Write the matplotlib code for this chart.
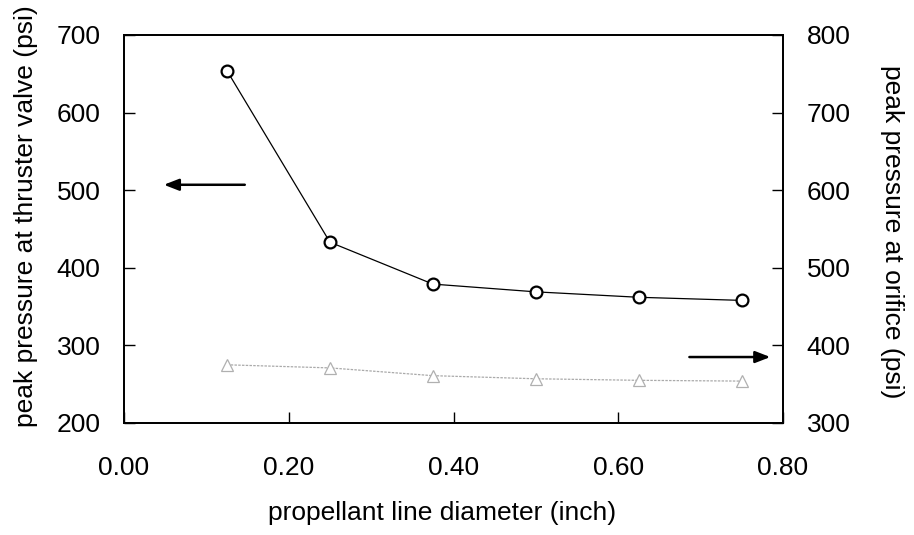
import matplotlib
matplotlib.use("Agg")
import matplotlib.pyplot as plt

plt.rcParams['font.family'] = ['Liberation Sans', 'DejaVu Sans']

diameter = [0.125, 0.25, 0.375, 0.50, 0.625, 0.75]
valve_pressure = [654, 433, 379, 369, 362, 358]
orifice_pressure = [375, 371, 361, 357, 355, 354]

x_ticks = [0.00, 0.20, 0.40, 0.60, 0.80]
left_ticks = [200, 300, 400, 500, 600, 700]
right_ticks = [300, 400, 500, 600, 700, 800]

fig = plt.figure(figsize=(9.14, 5.35), dpi=100)
ax = fig.add_axes([124/914, 1-423/535, (783-124)/914, (423-35)/535])
ax2 = ax.twinx()

ax.plot(diameter, valve_pressure, color='black', lw=0.9, marker='o', ms=8.5,
        mfc='white', mec='black', mew=1.6, zorder=3)
ax2.plot(diameter, orifice_pressure, color='#aaaaaa', lw=0.9, ls=(0, (2, 1)),
         marker='^', ms=8.5, mfc='white', mec='#b0b0b0', mew=0.9, zorder=3)

ax.set_xlim(0, 0.8)
ax.set_ylim(200, 700)
ax2.set_ylim(300, 800)
ax.set_xticks(x_ticks)
ax.set_xticklabels([f"{v:.2f}" for v in x_ticks])
ax.set_yticks(left_ticks)
ax2.set_yticks(right_ticks)

ax.tick_params(axis='x', direction='in', length=8, width=1, pad=24, labelsize=19)
ax.tick_params(axis='y', direction='in', length=8, width=1, pad=17, labelsize=19)
ax2.tick_params(axis='y', direction='in', length=8, width=1, pad=17, labelsize=19)
for a in (ax, ax2):
    for s in a.spines.values():
        s.set_linewidth(1.3)

# arrows
ax.annotate('', xy=(0.045, 507), xytext=(0.150, 507),
            arrowprops=dict(arrowstyle='-|>,head_length=0.9,head_width=0.35', color='black', lw=1.8))
ax.annotate('', xy=(0.788, 285), xytext=(0.683, 285),
            arrowprops=dict(arrowstyle='-|>,head_length=0.9,head_width=0.35', color='black', lw=1.8))

fig.text(26/914, 1-216/535, 'peak pressure at thruster valve (psi)', rotation=90,
         ha='center', va='center', fontsize=19)
fig.text(892/914, 1-232/535, 'peak pressure at orifice (psi)', rotation=270,
         ha='center', va='center', fontsize=19)
fig.text(442/914, 1-513/535, 'propellant line diameter (inch)',
         ha='center', va='center', fontsize=19)

fig.savefig('out.png', dpi=100)
